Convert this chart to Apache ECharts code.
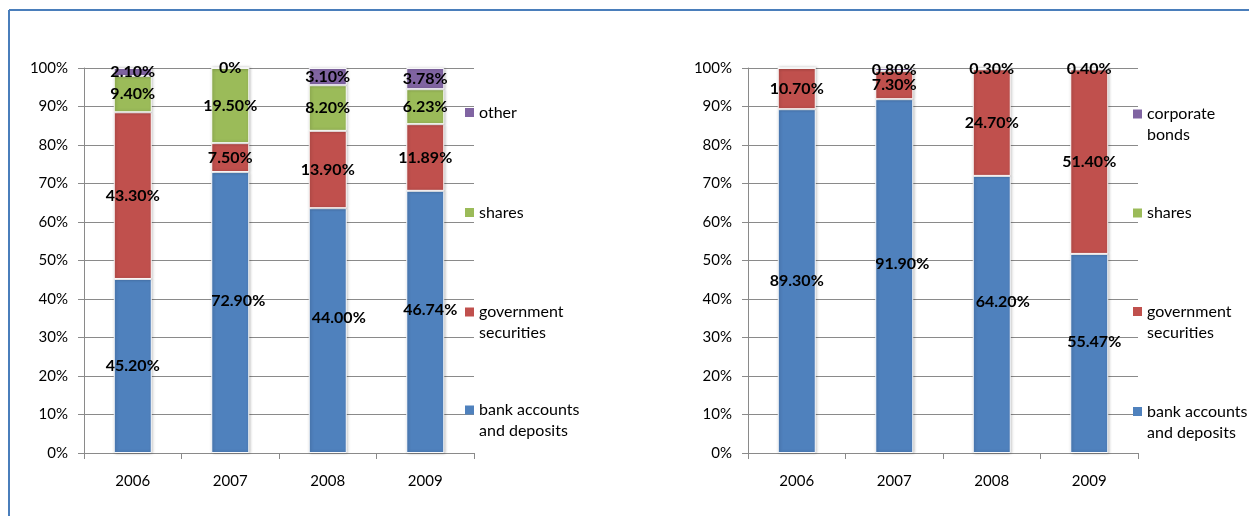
<!DOCTYPE html>
<html>
<head>
<meta charset="utf-8">
<script src="https://cdn.jsdelivr.net/npm/echarts@6/dist/echarts.min.js"></script>
<style>
html,body{margin:0;padding:0;background:#fff;}
#chart{width:1249px;height:516px;}
</style>
</head>
<body>
<div id="chart"></div>
<script>
// ---- data (percent values as labelled in the reference) ----
const years = ['2006', '2007', '2008', '2009'];
const yTickValues = [0, 10, 20, 30, 40, 50, 60, 70, 80, 90, 100];

const leftBank   = [45.20, 72.90, 44.00, 46.74];
const leftGov    = [43.30, 7.50, 13.90, 11.89];
const leftShares = [9.40, 19.50, 8.20, 6.23];
const leftOther  = [2.10, 0, 3.10, 3.78];

const rightBank   = [89.30, 91.90, 64.20, 55.47];
const rightGov    = [10.70, 7.30, 24.70, 51.40];
const rightShares = [0, 0, 0, 0];
const rightBonds  = [null, 0.80, 0.30, 0.40];

// ---- styling ----
const FONT = 'Lato';
const GRID_COLOR = '#8a8a8a';
const COLORS = { bank: '#4f81bd', gov: '#c0504d', shares: '#9bbb59', other: '#8064a2' };
const blueLabelOffsets = [[0, 0], [8, -12], [11, -13], [5, -12]];

function fmt(v) { return v === 0 ? '0%' : v.toFixed(2) + '%'; }

function buildPanel(idx, defs) {
  // defs: bottom-to-top stacking order
  const totals = years.map((_, i) => defs.reduce((s, d) => s + (d.values[i] || 0), 0));
  return defs.map(d => ({
    name: d.name,
    type: 'bar',
    xAxisIndex: idx,
    yAxisIndex: idx,
    stack: 'p' + idx,
    barWidth: 38,
    itemStyle: {
      color: d.color,
      borderColor: 'rgba(255,255,255,0.95)',
      borderWidth: 1,
      shadowColor: 'rgba(0,0,0,0.28)',
      shadowBlur: 3,
      shadowOffsetX: 1
    },
    label: {
      show: d.showLabel !== false,
      position: 'inside',
      color: '#000',
      fontFamily: FONT,
      fontWeight: 'bold',
      fontSize: 16,
      formatter: p => (p.data && p.data.raw != null) ? fmt(p.data.raw) : ''
    },
    data: d.values.map((v, i) => {
      if (v == null) return { value: null, raw: null };
      const item = { value: v / totals[i] * 100, raw: v };
      if (d.shiftLabels) item.label = { offset: blueLabelOffsets[i] };
      return item;
    })
  }));
}

const series = [
  ...buildPanel(0, [
    { name: 'bank accounts and deposits', values: leftBank, color: COLORS.bank, shiftLabels: true },
    { name: 'government securities', values: leftGov, color: COLORS.gov },
    { name: 'shares', values: leftShares, color: COLORS.shares },
    { name: 'other', values: leftOther, color: COLORS.other }
  ]),
  ...buildPanel(1, [
    { name: 'bank accounts and deposits', values: rightBank, color: COLORS.bank, shiftLabels: true },
    { name: 'government securities', values: rightGov, color: COLORS.gov },
    { name: 'shares', values: rightShares, color: COLORS.shares, showLabel: false },
    { name: 'corporate bonds', values: rightBonds, color: COLORS.other }
  ])
];

const legendText = {
  'other': 'other',
  'shares': 'shares',
  'corporate bonds': 'corporate\nbonds',
  'government securities': 'government\nsecurities',
  'bank accounts and deposits': 'bank accounts\nand deposits'
};

function legendItem(name, left, iconCenterY) {
  const twoLine = legendText[name].indexOf('\n') >= 0;
  return {
    data: [name],
    left: left,
    top: twoLine ? iconCenterY - 31 : iconCenterY - 10.5,
    orient: 'vertical',
    padding: 0,
    icon: 'rect',
    itemWidth: 9,
    itemHeight: 9,
    selectedMode: false,
    itemStyle: { borderWidth: 0, shadowBlur: 0, shadowOffsetX: 0 },
    // a blank leading line keeps the marker level with the first text line
    formatter: n => (twoLine ? ' \n' : '') + legendText[n],
    textStyle: {
      fontFamily: FONT,
      fontSize: 16,
      color: '#000',
      lineHeight: 21
    }
  };
}

function xAxis(idx) {
  return {
    type: 'category',
    gridIndex: idx,
    data: years,
    axisLine: { lineStyle: { color: GRID_COLOR, width: 1 } },
    axisTick: { show: true, length: 6, lineStyle: { color: GRID_COLOR } },
    axisLabel: { color: '#000', fontFamily: FONT, fontSize: 15, margin: 21 }
  };
}
function yAxis(idx) {
  return {
    type: 'value',
    gridIndex: idx,
    min: yTickValues[0],
    max: yTickValues[yTickValues.length - 1],
    interval: yTickValues[1] - yTickValues[0],
    axisLine: { show: true, lineStyle: { color: GRID_COLOR, width: 1 } },
    axisTick: { show: true, length: 6, lineStyle: { color: GRID_COLOR } },
    splitLine: { show: true, lineStyle: { color: GRID_COLOR, width: 1 } },
    axisLabel: { color: '#000', fontFamily: FONT, fontSize: 15, margin: 16, formatter: '{value}%' }
  };
}

const chart = echarts.init(document.getElementById('chart'), null, { renderer: 'canvas' });
chart.setOption({
  backgroundColor: '#fff',
  animation: false,
  grid: [
    { left: 84, top: 68, width: 390, height: 385 },
    { left: 748, top: 68, width: 390, height: 385 }
  ],
  xAxis: [xAxis(0), xAxis(1)],
  yAxis: [yAxis(0), yAxis(1)],
  legend: [
    legendItem('other', 465, 112.5),
    legendItem('shares', 465, 212.5),
    legendItem('government securities', 465, 311.5),
    legendItem('bank accounts and deposits', 465, 409.5),
    legendItem('corporate bonds', 1133, 113.5),
    legendItem('shares', 1133, 213),
    legendItem('government securities', 1133, 311),
    legendItem('bank accounts and deposits', 1133, 411)
  ],
  graphic: [
    { type: 'line', shape: { x1: 9, y1: 10, x2: 1249, y2: 10 }, style: { stroke: '#4a7ebb', lineWidth: 2 } },
    { type: 'line', shape: { x1: 9, y1: 10, x2: 9, y2: 516 }, style: { stroke: '#4a7ebb', lineWidth: 2 } }
  ],
  series: series
});
</script>
</body>
</html>
